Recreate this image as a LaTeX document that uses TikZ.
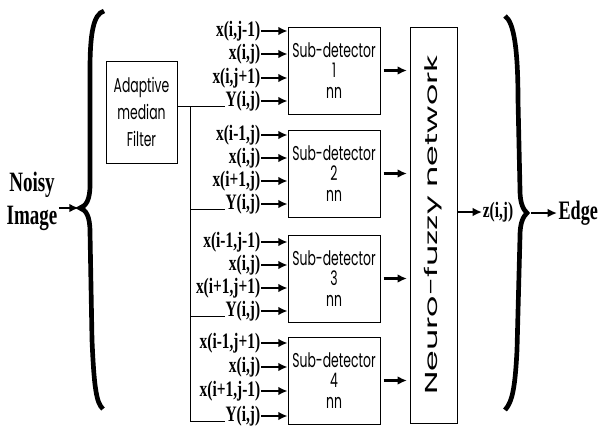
\documentclass[tikz,border=0pt]{standalone}
\usepackage{fontspec}
\usetikzlibrary{arrows.meta}
\newfontfamily\lblfont[FakeStretch=0.7]{Liberation Serif}
\newfontfamily\bigfont[FakeStretch=0.68]{Liberation Serif}
\newfontfamily\gothic[FakeStretch=0.62]{Poppins}
\newfontfamily\widegothic[FakeStretch=1.92]{Poppins}

\begin{document}
\begin{tikzpicture}[x=0.75pt, y=-0.75pt, >={Latex[length=7pt,width=6.5pt]}]
    \tikzstyle{box} = [rectangle, draw, line width=0.6pt, inner sep=0pt, align=center, font=\gothic\fontsize{15}{15.5}\selectfont]
    \tikzstyle{subdet} = [box, minimum width=69pt, minimum height=65.25pt]
    \tikzstyle{lbl} = [inner sep=0.4pt, anchor=east, font=\lblfont\bfseries\fontsize{16.5}{18}\selectfont]
    \tikzstyle{big} = [inner sep=1pt, align=center, font=\bigfont\bfseries\fontsize{21}{24.75}\selectfont]
    \tikzstyle{arr} = [->, line width=1.6pt]
    \tikzstyle{brace} = [line width=3.5pt]
    \useasboundingbox (0,0) rectangle (599,429);

    \node (noisy) [big] at (32,201) {Noisy\\Image};
    \node (flt) [box, minimum width=53.25pt, minimum height=76.5pt, font=\gothic\fontsize{15}{20}\selectfont] at (141.5,112) {Adaptive\\median\\Filter};

    \node (sd1) [subdet] at (334,70.5) {Sub-detector\\1\\nn};
    \node (sd2) [subdet] at (334,173.5) {Sub-detector\\2\\nn};
    \node (sd3) [subdet] at (334,278.5) {Sub-detector\\3\\nn};
    \node (sd4) [subdet] at (334,380.5) {Sub-detector\\4\\nn};
    % rotated box: north is its left side, south its right side
    \node (nf) [box, rotate=90, minimum width=297pt, minimum height=35.25pt, font=\widegothic\fontsize{13}{15}\selectfont] at (433.5,225) {Neuro-fuzzy network};

    % inputs of each sub-detector
    \node (l11) [lbl] at (261,31) {x(i,j-1)};
    \node (l12) [lbl] at (261,54) {x(i,j)};
    \node (l13) [lbl] at (261,78) {x(i,j+1)};
    \node (l14) [lbl] at (261,101) {Y(i,j)};
    \node (l21) [lbl] at (261,135) {x(i-1,j)};
    \node (l22) [lbl] at (261,158) {x(i,j)};
    \node (l23) [lbl] at (261,181) {x(i+1,j)};
    \node (l24) [lbl] at (261,204) {Y(i,j)};
    \node (l31) [lbl] at (261,242) {x(i-1,j-1)};
    \node (l32) [lbl] at (261,265) {x(i,j)};
    \node (l33) [lbl] at (261,288) {x(i+1,j+1)};
    \node (l34) [lbl] at (261,311) {Y(i,j)};
    \node (l41) [lbl] at (261,343) {x(i-1,j+1)};
    \node (l42) [lbl] at (261,367) {x(i,j)};
    \node (l43) [lbl] at (261,391) {x(i+1,j-1)};
    \node (l44) [lbl] at (261,416) {Y(i,j)};

    \node (z) [lbl, anchor=west] at (482,212) {z(i,j)};
    \node (edge) [big, anchor=west, font=\bigfont\bfseries\fontsize{20}{22}\selectfont] at (557,213) {Edge};

    \coordinate (lb) at (80,208);
    \coordinate (rb) at (527,213);
    \coordinate (bus) at (190,0);

    % braces
    \draw [brace] (104,11) .. controls (93,14) and (90,35) .. (90,70) -- (90,185) .. controls (90,200) and (86,206) .. (lb) .. controls (86,210) and (90,216) .. (90,232) -- (92,340) .. controls (94,385) and (96,403) .. (103,409);
    \draw [brace] (505,16) .. controls (514,22) and (518,50) .. (518,100) -- (520,190) .. controls (520,205) and (524,210) .. (rb) .. controls (524,216) and (520,221) .. (520,236) -- (517,350) .. controls (515,390) and (512,402) .. (505,410);

    % filter output
    \draw [line width=0.6pt] (flt.east |- l14.base west) -- (l14.base west);
    \draw [line width=0.6pt] (bus |- l14.base west) -- (bus |- l44.base west);
    \foreach \g in {2,3,4}
        \draw [line width=0.6pt] (bus |- l\g4.base west) -- (l\g4.base west);

    \foreach \g in {1,...,4} {
        \foreach \r in {1,...,4}
            \draw [arr] (l\g\r.east) -- (sd\g.west |- l\g\r.east);
        \draw [arr, shorten <=2.5pt, shorten >=2pt] (sd\g.east) -- (nf.north |- sd\g.east);
    }

    \draw [arr, shorten >=1pt] (noisy.east |- lb) -- (lb);
    \draw [arr] (nf.south |- z.west) -- (z.west);
    \draw [arr, shorten <=3pt] (rb) -- (edge.west);

    \end{tikzpicture}
\end{document}
